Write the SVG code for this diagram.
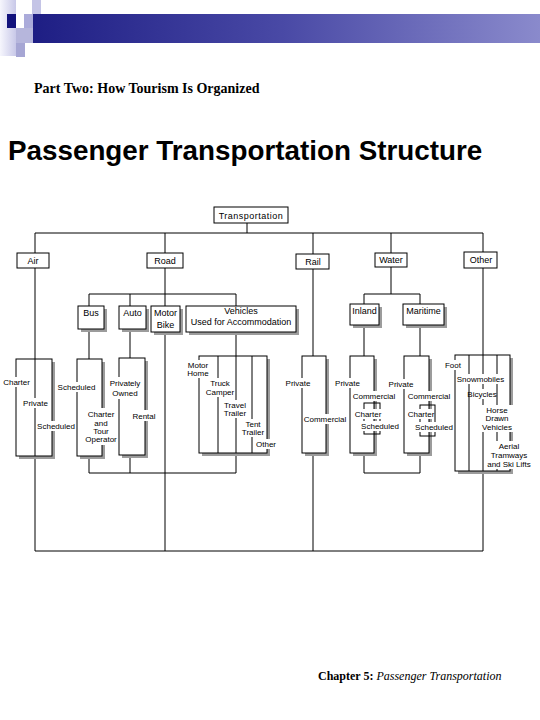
<svg xmlns="http://www.w3.org/2000/svg" width="540" height="720" viewBox="0 0 540 720">
<defs>
<linearGradient id="bar" x1="0" y1="0" x2="1" y2="0">
<stop offset="0" stop-color="#1e1e84"/>
<stop offset="0.5" stop-color="#4a4aa6"/>
<stop offset="1" stop-color="#8a8acc"/>
</linearGradient>
<linearGradient id="strip" x1="0" y1="0" x2="1" y2="0">
<stop offset="0" stop-color="#f6f6fd"/>
<stop offset="1" stop-color="#c8c8e8"/>
</linearGradient>
</defs>
<style>
.ln{stroke:#000;stroke-width:1;fill:none}
.bx{fill:#fff;stroke:#000;stroke-width:1}
.sb{fill:none;stroke:#000;stroke-width:1}
.sh{fill:#9c9c9c}
.bg{fill:#fff}
.t1{font-family:"Liberation Sans",Arial,sans-serif;font-size:9px;fill:#000;text-anchor:middle}
.t2{font-family:"Liberation Sans",Arial,sans-serif;font-size:8px;fill:#000;text-anchor:middle}
</style>
<rect width="540" height="720" fill="#fff"/>
<g id="decor">
<rect x="0" y="0" width="16" height="56" fill="url(#strip)"/>
<rect x="32" y="0" width="9" height="14" fill="#c4c4e6"/>
<rect x="7" y="14" width="9" height="14" fill="#12127c"/>
<rect x="16" y="14" width="8" height="14" fill="#ffffff"/>
<rect x="24" y="14" width="9" height="14" fill="#ababda"/>
<rect x="33" y="14" width="507" height="29" fill="url(#bar)"/>
<rect x="16" y="28" width="17" height="15" fill="#b6b6dc"/>
<rect x="16" y="43" width="9" height="14" fill="#a6a6d4"/>
</g>
<text x="34" y="93" font-family="Liberation Serif,'Times New Roman',serif" font-size="14" font-weight="bold">Part Two: How Tourism Is Organized</text>
<text x="8" y="160" font-family="Liberation Sans,Arial,sans-serif" font-size="27.8" font-weight="bold">Passenger Transportation Structure</text>

<g id="connectors" class="ln">
<path d="M247 223V233M35 233H483"/>
<path d="M35 233V253M35 268V359M35 456V551"/>
<path d="M165 233V253M165 268V306M89 294H236M89 294V306M130 294V306M236 294V306"/>
<path d="M89 329V359M89 456V473M130 329V358M130 455V473M165 332V551M236 332V356M236 453V473M89 473H236"/>
<path d="M313 233V254M313 269V356M313 453V551"/>
<path d="M391 233V253M391 267V294M364 294H420M364 294V304M420 294V304M364 325V356M420 325V356M364 453V473M420 453V473M364 473H420"/>
<path d="M483 233V252M483 268V355M483 471V551"/>
<path d="M35 551H483"/>
</g>

<g id="transportation">
<rect class="bx" x="214" y="207" width="74" height="16"/>
<text class="t1" x="251" y="219" font-size="10" letter-spacing="0.5">Transportation</text>
</g>
<g id="air">
<rect class="bx" x="17" y="253" width="32" height="15"/>
<text class="t1" x="33" y="264">Air</text>
</g>
<g id="road">
<rect class="bx" x="147" y="253" width="36" height="15"/>
<text class="t1" x="165" y="264">Road</text>
</g>
<g id="rail">
<rect class="bx" x="296" y="254" width="33" height="15"/>
<text class="t1" x="313" y="265">Rail</text>
</g>
<g id="water">
<rect class="bx" x="375" y="253" width="32" height="14"/>
<text class="t1" x="391" y="263">Water</text>
</g>
<g id="other">
<rect class="bx" x="464" y="252" width="33" height="16"/>
<text class="t1" x="481" y="263">Other</text>
</g>

<g id="bus">
<rect class="sh" x="81" y="309" width="26" height="23"/>
<rect class="bx" x="78" y="306" width="26" height="23"/>
<text class="t1" x="91" y="316">Bus</text>
</g>
<g id="auto">
<rect class="sh" x="122" y="309" width="27" height="23"/>
<rect class="bx" x="119" y="306" width="27" height="23"/>
<text class="t1" x="132.5" y="316">Auto</text>
</g>
<g id="motorbike">
<rect class="sh" x="154" y="309" width="29" height="26"/>
<rect class="bx" x="151" y="306" width="29" height="26"/>
<text class="t1" x="165.5" y="316">Motor</text>
<text class="t1" x="165.5" y="328">Bike</text>
</g>
<g id="vehicles">
<rect class="sh" x="189" y="309" width="110" height="26"/>
<rect class="bx" x="186" y="306" width="110" height="26"/>
<text class="t1" x="241" y="314">Vehicles</text>
<text class="t1" x="241" y="325">Used for Accommodation</text>
</g>
<g id="inland">
<rect class="sh" x="353" y="307" width="29" height="21"/>
<rect class="bx" x="350" y="304" width="29" height="21"/>
<text class="t1" x="364.5" y="314">Inland</text>
</g>
<g id="maritime">
<rect class="sh" x="406" y="307" width="41" height="21"/>
<rect class="bx" x="403" y="304" width="41" height="21"/>
<text class="t1" x="423.5" y="314">Maritime</text>
</g>

<g id="air-types">
<path class="sh" d="M52 362H55V459H19V456H52Z"/>
<rect class="sb" x="16" y="359" width="36" height="97"/>
<path class="ln" d="M35 359V456"/>
<rect class="bg" x="2" y="377" width="29" height="10"/>
<text class="t2" x="16.5" y="385">Charter</text>
<rect class="bg" x="22" y="398" width="27" height="10"/>
<text class="t2" x="35.5" y="406">Private</text>
<rect class="bg" x="36" y="421" width="40" height="10"/>
<text class="t2" x="56" y="429">Scheduled</text>
</g>
<g id="bus-types">
<path class="sh" d="M102 362H105V459H80V456H102Z"/>
<rect class="sb" x="77" y="359" width="25" height="97"/>
<rect class="bg" x="57" y="382" width="39" height="10"/>
<text class="t2" x="76.5" y="390">Scheduled</text>
<rect class="bg" x="84" y="408" width="34" height="37"/>
<text class="t2" x="101" y="417">Charter</text>
<text class="t2" x="101" y="426">and</text>
<text class="t2" x="101" y="434">Tour</text>
<text class="t2" x="101" y="442">Operator</text>
</g>
<g id="auto-types">
<path class="sh" d="M145 361H148V458H122V455H145Z"/>
<rect class="sb" x="119" y="358" width="26" height="97"/>
<rect class="bg" x="108" y="377" width="33" height="22"/>
<text class="t2" x="125" y="386">Privately</text>
<text class="t2" x="125" y="396">Owned</text>
<rect class="bg" x="132" y="410" width="24" height="11"/>
<text class="t2" x="144" y="419">Rental</text>
</g>
<g id="vehicle-types">
<path class="sh" d="M267 359H270V456H202V453H267Z"/>
<rect class="sb" x="199" y="356" width="68" height="97"/>
<path class="ln" d="M218 356V453M236 356V453M252 356V453"/>
<rect class="bg" x="186" y="360" width="24" height="18"/>
<text class="t2" x="198" y="368">Motor</text>
<text class="t2" x="198" y="376">Home</text>
<rect class="bg" x="206" y="378" width="29" height="19"/>
<text class="t2" x="220" y="386">Truck</text>
<text class="t2" x="220" y="395">Camper</text>
<rect class="bg" x="223" y="400" width="24" height="18"/>
<text class="t2" x="235" y="408">Travel</text>
<text class="t2" x="235" y="416">Trailer</text>
<rect class="bg" x="241" y="419" width="24" height="18"/>
<text class="t2" x="253" y="427">Tent</text>
<text class="t2" x="253" y="435">Trailer</text>
<rect class="bg" x="256" y="439" width="21" height="10"/>
<text class="t2" x="266" y="447">Other</text>
</g>
<g id="rail-types">
<path class="sh" d="M326 359H329V456H305V453H326Z"/>
<rect class="sb" x="302" y="356" width="24" height="97"/>
<rect class="bg" x="285" y="378" width="26" height="10"/>
<text class="t2" x="298" y="386">Private</text>
<rect class="bg" x="303" y="414" width="44" height="10"/>
<text class="t2" x="325" y="422">Commercial</text>
</g>
<g id="inland-types">
<path class="sh" d="M374 359H377V456H353V453H374Z"/>
<rect class="sb" x="350" y="356" width="24" height="97"/>
<rect class="sb" x="364" y="403" width="16" height="31"/>
<rect class="bg" x="334" y="378" width="27" height="10"/>
<text class="t2" x="347.5" y="386">Private</text>
<rect class="bg" x="352" y="391" width="44" height="10"/>
<text class="t2" x="374" y="399">Commercial</text>
<rect class="bg" x="355" y="409" width="27" height="10"/>
<text class="t2" x="368" y="417">Charter</text>
<rect class="bg" x="361" y="421" width="39" height="10"/>
<text class="t2" x="380" y="429">Scheduled</text>
</g>
<g id="maritime-types">
<path class="sh" d="M429 359H432V456H407V453H429Z"/>
<rect class="sb" x="404" y="356" width="25" height="97"/>
<rect class="sb" x="420" y="405" width="15" height="31"/>
<rect class="bg" x="388" y="379" width="26" height="10"/>
<text class="t2" x="401" y="387">Private</text>
<rect class="bg" x="407" y="391" width="44" height="10"/>
<text class="t2" x="429" y="399">Commercial</text>
<rect class="bg" x="408" y="409" width="26" height="10"/>
<text class="t2" x="421" y="417">Charter</text>
<rect class="bg" x="414" y="422" width="40" height="10"/>
<text class="t2" x="434" y="430">Scheduled</text>
</g>
<g id="other-types">
<path class="sh" d="M510 358H513V474H458V471H510Z"/>
<rect class="sb" x="455" y="355" width="55" height="116"/>
<path class="ln" d="M469 355V471M483 355V471M497 355V471"/>
<rect class="bg" x="445" y="360" width="16" height="10"/>
<text class="t2" x="453" y="368">Foot</text>
<rect class="bg" x="456" y="374" width="49" height="10"/>
<text class="t2" x="480.5" y="382">Snowmobiles</text>
<rect class="bg" x="470" y="389" width="24" height="10"/>
<text class="t2" x="482" y="397">Bicycles</text>
<rect class="bg" x="482" y="405" width="31" height="27"/>
<text class="t2" x="497" y="413">Horse</text>
<text class="t2" x="497" y="421">Drawn</text>
<text class="t2" x="497" y="430">Vehicles</text>
<rect class="bg" x="487" y="441" width="45" height="28"/>
<text class="t2" x="509" y="449">Aerial</text>
<text class="t2" x="509" y="458">Tramways</text>
<text class="t2" x="509" y="467">and Ski Lifts</text>
</g>

<text x="318" y="680" font-family="Liberation Serif,'Times New Roman',serif" font-size="12"><tspan font-weight="bold">Chapter 5: </tspan><tspan font-style="italic">Passenger Transportation</tspan></text>
</svg>
